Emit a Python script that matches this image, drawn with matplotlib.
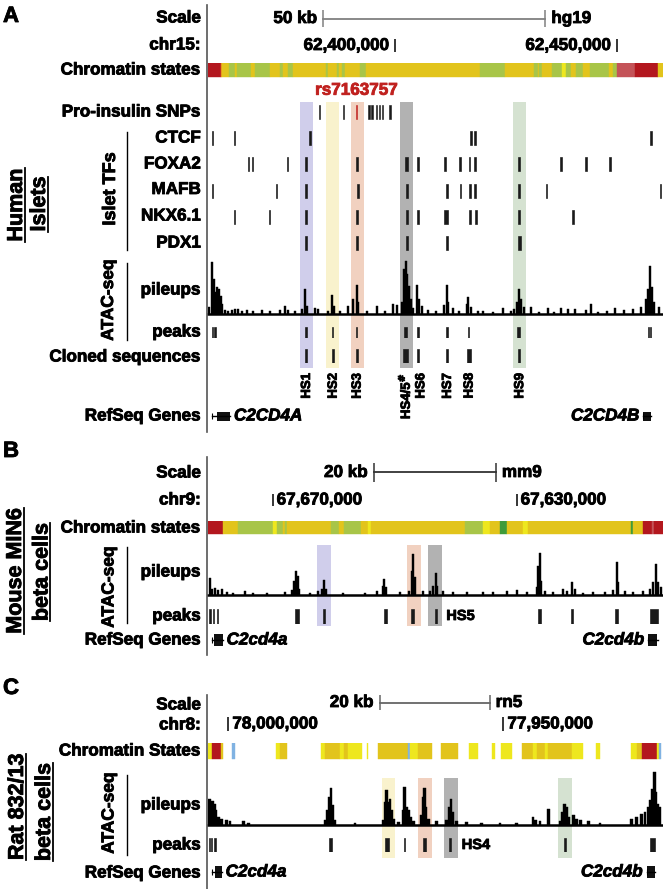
import matplotlib.pyplot as plt
import matplotlib.patheffects as pe
from matplotlib.lines import Line2D
from matplotlib.text import Text

W, H, DPI = 663, 889, 100
plt.rcParams["font.family"] = ["Liberation Sans", "DejaVu Sans"]
plt.rcParams["font.weight"] = "bold"
plt.rcParams["mathtext.default"] = "bf"

LBL = 12.3  # track label size

STATE_COLORS = {"red": "#B3171E", "orange": "#E8901F", "yellow": "#E2C41C",
                "green": "#A8C548", "lemon": "#EEE71E", "salmon": "#C45358",
                "dkgreen": "#3F9B3A", "blue": "#80B2E2"}
HL_COLORS = {"purple": "#D0CEEB", "yellow": "#F9F2CD", "salmon": "#F1D1C0",
             "gray": "#B2B2B2", "green": "#D5E2D1"}

# ---------------- Panel A: human islets, hg19 chr15 (kb from left edge of view)
A_VIEW_START = 62357.8
A_VIEW_KB = 102.5
A_CHR_TICKS = [62400, 62450]
A_CHR_LABELS = ["62,400,000", "62,450,000"]
A_SCALE = (26.0, 50)

A_CHROM_EDGES = [0, 2.86, 3.22, 4.80, 6.08, 6.46, 9.62, 10.59, 13.96, 16.22,
                 16.96, 18.09, 19.21, 26.58, 27.09, 28.99, 29.57, 30.11, 30.86, 34.23,
                 35.59, 61.33, 66.89, 73.36, 74.26, 74.62, 75.23, 77.48, 79.73, 80.63,
                 81.76, 82.88, 84.39, 86.10, 90.25, 91.15, 92.05, 96.24, 101.28, 102.5]
A_CHROM_STATES = ["red", "orange", "yellow", "green", "yellow", "green", "yellow", "green",
                  "yellow", "green", "yellow", "green", "yellow", "green", "yellow", "green",
                  "yellow", "green", "yellow", "green", "yellow", "green", "yellow", "green",
                  "yellow", "green", "yellow", "green", "lemon", "green", "yellow", "green",
                  "yellow", "green", "yellow", "green", "salmon", "red", "yellow"]

A_SNP_POS = [25.07, 30.47, 36.26, 36.94, 38.0, 38.58, 39.35, 40.99]
A_LEAD_SNP = 33.49
A_LEAD_NAME = "rs7163757"

A_TF_NAMES = ["CTCF", "FOXA2", "MAFB", "NKX6.1", "PDX1"]
A_TF_POS = [
    [0.97, 5.92, 22.97, 59.23, 60.2, 99.77],
    [9.08, 10.07, 17.86, 22.0, 33.63, 44.75, 47.37, 53.38, 56.76, 58.94, 60.2, 70.11,
     79.5, 85.14, 90.6],
    [0.97, 15.47, 22.07, 33.72, 44.89, 53.83, 56.83, 58.94, 60.2, 70.11, 76.35, 102.0],
    [5.92, 13.81, 22.0, 33.63, 44.89, 47.37, 53.6, 59.08, 60.43, 70.11, 82.27],
    [22.0, 33.63, 44.89, 53.83, 70.11],
]
A_TF_WIDTH = [
    [0.35, 0.35, 0.3, 0.3, 0.4, 0.3],
    [0.25, 0.25, 0.3, 0.45, 0.45, 0.7, 0.35, 0.4, 0.4, 0.25, 0.45, 0.55, 0.4, 0.35, 0.4],
    [0.35, 0.35, 0.55, 0.4, 0.45, 0.45, 0.2, 0.4, 0.4, 0.55, 0.2, 0.3],
    [0.35, 0.3, 0.45, 0.45, 0.5, 0.4, 1.05, 0.5, 0.4, 0.45, 0.35],
    [0.45, 0.45, 0.45, 0.45, 0.6],
]

A_PILE_POS = [0.15, 0.98, 1.35, 1.73, 2.1, 2.48, 2.85, 3.23, 3.83, 4.58, 5.33, 6.08, 6.83,
              7.58, 8.71, 10.21, 12.09, 13.96, 16.22, 17.34, 18.09, 19.6, 21.1, 21.85, 22.3,
              24.1, 24.85, 27.1, 27.93, 28.38, 29.73, 31.61, 32.73, 33.48, 33.86, 35.74,
              37.99, 39.86, 41.74, 42.49, 43.62, 44.14, 44.52, 44.89, 45.27, 45.65, 46.25,
              47.15, 47.52, 48.12, 49.47, 51.35, 53.23, 53.75, 54.13, 55.26, 56.61, 58.26,
              58.63, 59.23, 60.74, 61.86, 64.11, 66.37, 68.24, 68.99, 69.59, 70.12, 70.57,
              71.25, 72.75, 74.62, 76.5, 78.0, 79.5, 81.16, 82.66, 85.14, 86.34, 87.76,
              89.86, 91.67, 93.62, 95.65, 97.52, 98.65, 99.17, 99.55, 99.92, 100.53, 101.65]
A_PILE_H = [6.7, 51.7, 35, 21.7, 26.7, 25, 18, 10, 4, 3, 4, 5, 5, 3, 4, 3, 4, 3, 4, 7.7,
            4, 3, 5, 25, 8, 5.7, 5, 3, 19, 8, 3, 7.7, 15, 29, 11.7, 3, 7.7, 3, 10, 9, 12,
            45, 52.3, 40, 28, 15, 6, 29, 15, 7.7, 4, 3, 8.3, 28.3, 11.7, 5.7, 3, 10, 16.7,
            6.7, 2.3, 2.3, 2, 5.7, 3, 5, 11.7, 24.3, 15, 6.7, 6.7, 2, 5.7, 2, 5.7, 5, 5,
            3.3, 10, 2, 3, 5.7, 3.3, 5, 6.7, 15, 25, 48, 26.7, 11.7, 6.7]

A_PEAK_POS = [1.0, 1.6, 22.07, 28.08, 33.48, 44.52, 47.37, 53.83, 58.71, 70.0, 99.2, 99.6]
A_PEAK_W = [0.25, 0.3, 0.35, 0.3, 0.35, 0.8, 0.35, 0.3, 0.35, 0.6, 0.25, 0.25]

A_CLONED_NAMES = ["HS1", "HS2", "HS3", r"HS4/5$^{\#}$", "HS6", "HS7", "HS8", "HS9"]
A_CLONED_POS = [22.07, 28.08, 33.48, 44.5, 47.37, 53.83, 58.71, 70.1]
A_CLONED_W = [0.5, 0.5, 0.45, 1.2, 0.5, 0.5, 0.95, 0.5]

A_HL = [(20.72, 23.72), (26.58, 29.58), (32.21, 35.21), (43.24, 46.24), (68.63, 71.63)]
A_HL_COL = ["purple", "yellow", "salmon", "gray", "green"]

A_GENES = ["C2CD4A", "C2CD4B"]
A_GENE_TX = [(0.98, 4.95), (98.1, 99.9)]
A_GENE_EXON = [(1.95, 4.95), (98.1, 99.9)]
A_GENE_SIDE = ["right", "left"]

# ---------------- Panel B: mouse MIN6, mm9 chr9 (minus orientation)
B_VIEW_START = 67680.6
B_VIEW_KB = 74.6
B_CHR_TICKS = [67670, 67630]
B_CHR_LABELS = ["67,670,000", "67,630,000"]
B_SCALE = (27.2, 20)

B_CHROM_EDGES = [0, 2.4, 4.97, 10.71, 11.26, 12.35, 12.62, 13.0, 20.16, 21.53, 22.3, 25.08,
                 26.17, 26.67, 42.13, 45.14, 46.23, 47.87, 48.96, 51.69, 52.51, 69.34, 69.73,
                 71.37, 72.73, 73.11, 74.6]
B_CHROM_STATES = ["red", "yellow", "green", "lemon", "green", "yellow", "green", "yellow",
                  "green", "yellow", "green", "yellow", "lemon", "yellow", "green", "lemon",
                  "yellow", "dkgreen", "yellow", "lemon", "yellow", "dkgreen", "yellow",
                  "red", "salmon", "red"]

B_PILE_POS = [0.33, 0.6, 1.15, 1.69, 2.24, 3.06, 4.15, 6.07, 7.43, 9.62, 12.62, 13.72, 14.15,
              14.43, 14.7, 14.97, 16.72, 18.09, 18.63, 19.02, 19.34, 22.19, 25.74, 27.65,
              28.63, 28.9, 29.18, 31.48, 33.0, 33.39, 33.66, 33.93, 35.3, 36.39, 36.94,
              37.32, 37.6, 38.58, 40.22, 42.4, 45.14, 46.78, 48.96, 50.6, 52.24, 53.88,
              54.15, 54.37, 54.64, 55.25, 56.61, 58.25, 58.8, 59.62, 60.16, 61.53, 63.17,
              65.08, 66.45, 66.99, 67.27, 68.36, 69.73, 71.37, 72.46, 73.01, 73.44, 73.83,
              74.21]
B_PILE_H = [17, 5.7, 6.7, 4.7, 5.7, 2.3, 2, 3.3, 1.7, 1.7, 2.3, 4.7, 14, 24, 19, 5.7, 1.7, 4,
            5.7, 14.7, 5.7, 1.7, 1.7, 4, 9, 15.7, 7.3, 2.3, 4, 24, 40.7, 17.3, 3.3, 4, 9,
            21.3, 9, 4, 2.3, 3, 2.3, 3, 3.3, 4.7, 3, 8, 29, 41.3, 14, 4, 2.3, 5.7, 4, 12.3,
            5.7, 1.7, 3, 3, 4.7, 32.3, 12.3, 4, 3, 3.3, 5.7, 12.3, 30.7, 12.3, 7.3]

B_PEAK_POS = [0.33, 0.87, 1.53, 14.54, 19.02, 29.07, 33.55, 37.38, 54.32, 59.67, 66.99, 73.1]
B_PEAK_W = [0.2, 0.2, 0.2, 0.6, 0.45, 0.45, 0.45, 0.25, 0.45, 0.4, 0.45, 1.2]
B_PEAK_NOTE = ("HS5", 38.42)

B_HL = [(17.81, 20.11), (32.57, 34.86), (36.12, 38.42)]
B_HL_COL = ["purple", "salmon", "gray"]

B_GENES = ["C2cd4a", "C2cd4b"]
B_GENE_TX = [(0.6, 2.4), (72.2, 73.85)]
B_GENE_EXON = [(0.98, 2.4), (72.2, 73.55)]
B_GENE_SIDE = ["right", "left"]

# ---------------- Panel C: rat 832/13, rn5 chr8 (minus orientation)
C_VIEW_START = 78003.7
C_VIEW_KB = 82.7
C_CHR_TICKS = [78000, 77950]
C_CHR_LABELS = ["78,000,000", "77,950,000"]
C_SCALE = (31.2, 20)

C_CHROM_EDGES = [0, 0.67, 2.3, 2.67, 4.42, 4.91, 12.36, 13.09, 14.3, 20.48, 21.27, 24.0,
                 24.73, 25.52, 27.94, 28.85, 29.15, 30.85, 36.42, 36.73, 38.24, 40.67, 42.3,
                 45.52, 47.52, 49.15, 51.58, 52.18, 53.27, 55.33, 57.15, 59.15, 59.76, 61.27,
                 61.88, 66.12, 68.12, 70.55, 71.27, 76.85, 77.94, 78.85, 81.58, 82.06, 82.3]
C_CHROM_STATES = ["lemon", "red", "yellow", None, "blue", None, "lemon", "yellow", None,
                  "lemon", "yellow", "lemon", "yellow", "lemon", None, "lemon", None,
                  "yellow", "blue", "lemon", "yellow", None, "yellow", None, "lemon", None,
                  "lemon", None, "lemon", None, "yellow", "lemon", "yellow", "lemon",
                  "yellow", "lemon", None, "lemon", None, "lemon", "yellow", "red", "lemon",
                  "blue"]

C_PILE_POS = [0.24, 0.55, 0.85, 1.21, 1.45, 1.88, 2.48, 3.39, 4.0, 6.42, 7.33, 21.27, 21.76,
              22.06, 22.36, 22.67, 22.97, 26.73, 31.88, 32.18, 32.42, 32.79, 33.09, 33.39,
              33.7, 34.6, 35.52, 35.76, 36.06, 36.42, 36.85, 37.33, 38.85, 39.15, 39.33,
              39.64, 40.06, 41.58, 43.39, 43.88, 44.18, 44.48, 45.21, 47.03, 49.76, 53.09,
              56.12, 59.09, 59.52, 60.36, 61.88, 64.12, 64.48, 64.85, 65.21, 65.52, 66.42,
              66.91, 67.64, 69.15, 71.27, 77.03, 77.94, 78.85, 79.45, 80.06, 80.48, 80.85,
              81.09, 81.39, 81.7, 82.06]
C_PILE_H = [26, 17.7, 23.3, 21, 14.3, 7.7, 6, 4.3, 3.3, 3.3, 2, 4.3, 14.3, 27.7, 36.7, 19.3,
            4.3, 2, 4.3, 22.7, 34.3, 22.7, 26, 14.3, 6, 2.7, 14.3, 37.7, 17.7, 14.3, 7.7,
            3.3, 9.3, 27.7, 36.7, 17.7, 6, 3.3, 4.3, 17.7, 26, 12.7, 3.3, 2.7, 2, 2, 2, 7.7,
            4.3, 3.3, 15.3, 3.3, 12.7, 20.3, 17.7, 7.7, 9.3, 6, 4.3, 3.3, 2, 6, 7.7, 11,
            12.7, 17.7, 24.3, 36, 52.7, 32.7, 21, 17.7]

C_PEAK_POS = [0.24, 0.67, 1.27, 22.3, 32.6, 35.76, 39.33, 44.0, 64.9, 80.8]
C_PEAK_W = [0.2, 0.2, 0.3, 0.55, 0.7, 0.2, 0.45, 0.5, 0.25, 0.8]
C_PEAK_NOTE = ("HS4", 45.39)

C_HL = [(31.58, 33.99), (38.24, 40.67), (42.97, 45.39), (63.7, 66.12)]
C_HL_COL = ["yellow", "salmon", "gray", "green"]

C_GENES = ["C2cd4a", "C2cd4b"]
C_GENE_TX = [(0.67, 2.48), (79.76, 81.27)]
C_GENE_EXON = [(1.27, 2.48), (79.76, 81.27)]
C_GENE_SIDE = ["right", "left"]


fig = plt.figure(figsize=(W / DPI, H / DPI), dpi=DPI)


def fy(y):
    return 1 - y / H


def track_ax(y0, y1, view_kb):
    ax = fig.add_axes([208 / W, fy(y1), 455 / W, (y1 - y0) / H])
    ax.set_xlim(0, view_kb)
    ax.axis("off")
    return ax


def label(y, s, x=201, **kw):
    fig.text(x / W, fy(y), s, ha="right", va="center", fontsize=LBL, **kw)


def fline(x0, y0, x1, y1, color="black", lw=1.0):
    fig.add_artist(Line2D([x0 / W, x1 / W], [fy(y0), fy(y1)], color=color, lw=lw))


underlines = []


def vlabel(x, y, s, size, underline=None):
    t = fig.text(x / W, fy(y), s, rotation=90, rotation_mode="anchor",
                 ha="center", va="baseline", fontsize=size)
    if underline is not None:
        underlines.append((t, underline))


def draw_highlights(ax, spans, cols):
    ax.set_ylim(0, 1)
    for (a, b), c in zip(spans, cols):
        ax.axvspan(a, b, color=HL_COLORS[c], lw=0)


def draw_scale(ax, start, length, left, right, color):
    ax.set_ylim(-1, 1)
    ax.plot([start, start + length], [0, 0], color=color, lw=1.3)
    ax.vlines([start, start + length], -1, 1, color=color, lw=1.1)
    ax.annotate(left, xy=(start, 0), xytext=(-6, 0), textcoords="offset pixels",
                ha="right", va="center", fontsize=LBL)
    ax.annotate(right, xy=(start + length, 0), xytext=(6, 0), textcoords="offset pixels",
                ha="left", va="center", fontsize=LBL)


def draw_chr(ax, view_start, ticks, labels, reverse):
    ax.set_ylim(-1, 1)
    xs = [view_start - t if reverse else t - view_start for t in ticks]
    ax.vlines(xs, -1, 1, color="black", lw=1.1)
    for x, s in zip(xs, labels):
        if reverse:
            ax.annotate(s, xy=(x, 0), xytext=(4, 0), textcoords="offset pixels",
                        ha="left", va="center", fontsize=LBL)
        else:
            ax.annotate(s, xy=(x, 0), xytext=(-6, 0), textcoords="offset pixels",
                        ha="right", va="center", fontsize=LBL)


def draw_chrom(ax, edges, states):
    ax.set_ylim(0, 1)
    for a, b, s in zip(edges[:-1], edges[1:], states):
        if s is None:
            continue
        c = STATE_COLORS[s]
        ax.broken_barh([(a, b - a)], (0, 1), facecolors=c, edgecolor=c, lw=0.3)


def draw_pileup(ax, pos, h, width, top):
    ax.set_ylim(0, top)
    ax.bar(pos, h, width=width, color="black", edgecolor="black", lw=0.3)
    ax.axhline(0, color="black", lw=1.8, clip_on=False)


def draw_marks(ax, pos, widths, color="#1a1a1a"):
    ax.set_ylim(0, 1)
    ax.bar(pos, 1, width=widths, bottom=0, color=color, edgecolor=color, lw=0.45)


def draw_genes(ax, names, tx, exons, sides, exon_h):
    ax.set_ylim(-8, 8)
    for name, (t0, t1), (e0, e1), side in zip(names, tx, exons, sides):
        ax.plot([t0, t1], [0, 0], color="black", lw=1)
        ax.vlines(t0, -3, 3, color="black", lw=0.8)
        ax.bar((e0 + e1) / 2, exon_h, width=e1 - e0, bottom=-exon_h / 2, color="#111", lw=0)
        if side == "right":
            ax.annotate(name, xy=(e1, 0), xytext=(4, 0), textcoords="offset pixels",
                        ha="left", va="center", fontsize=12.3, style="italic")
        else:
            ax.annotate(name, xy=(e0, 0), xytext=(-4, 0), textcoords="offset pixels",
                        ha="right", va="center", fontsize=12.3, style="italic")


# ======================= Panel A =======================
fig.text(3 / W, fy(6), "A", fontsize=16, ha="left", va="top")
fline(207, 5, 207, 432, color="#555", lw=1.2)

draw_highlights(track_ax(101.7, 368, A_VIEW_KB), A_HL, A_HL_COL)
draw_scale(track_ax(10, 27, A_VIEW_KB), A_SCALE[0], A_SCALE[1], "50 kb", "hg19", "#808080")
draw_chr(track_ax(39, 52, A_VIEW_KB), A_VIEW_START, A_CHR_TICKS, A_CHR_LABELS, False)
draw_chrom(track_ax(63.3, 76.7, A_VIEW_KB), A_CHROM_EDGES, A_CHROM_STATES)

ax_tf = track_ax(98.9, 256.1, A_VIEW_KB)
ax_tf.set_ylim(5.5, -0.5)
ax_tf.bar(A_SNP_POS, 0.54, width=0.28, bottom=-0.27, color="#1a1a1a",
          edgecolor="#1a1a1a", lw=0.4)
ax_tf.bar([A_LEAD_SNP], 0.54, width=0.35, bottom=-0.27, color="#C0211F",
          edgecolor="#C0211F", lw=0.4)
ax_tf.text(A_LEAD_SNP, -0.83, A_LEAD_NAME, color="#C0211F", ha="center", va="center",
           fontsize=LBL)
for i, (pos, wid) in enumerate(zip(A_TF_POS, A_TF_WIDTH), start=1):
    ax_tf.bar(pos, 0.54, width=wid, bottom=i - 0.27, color="#1a1a1a",
              edgecolor="#1a1a1a", lw=0.45)

draw_pileup(track_ax(258, 313.5, A_VIEW_KB), A_PILE_POS, A_PILE_H, 0.45, 55.5)
draw_marks(track_ax(326.7, 338.3, A_VIEW_KB), A_PEAK_POS, A_PEAK_W)
ax_cl = track_ax(349, 363, A_VIEW_KB)
draw_marks(ax_cl, A_CLONED_POS, A_CLONED_W)
# small sideways nudges (pixels) keep the two close labels HS4/5# and HS6 apart
hs_nudge = {r"HS4/5$^{\#}$": -2, "HS6": 2}
for name, x in zip(A_CLONED_NAMES, A_CLONED_POS):
    ax_cl.annotate(name, xy=(x, 0), xycoords=("data", "axes fraction"),
                   xytext=(1 + hs_nudge.get(name, 0), -10),
                   textcoords="offset pixels", rotation=90, ha="center", va="top",
                   fontsize=9.5)
draw_genes(track_ax(408, 424, A_VIEW_KB), A_GENES, A_GENE_TX, A_GENE_EXON, A_GENE_SIDE, 9)

label(18, "Scale")
label(45, "chr15:")
label(70, "Chromatin states")
label(112, "Pro-insulin SNPs")
for name, y in zip(A_TF_NAMES, [138, 164, 189.5, 216, 243]):
    label(y, name)
label(290, "pileups")
label(332, "peaks")
label(357, "Cloned sequences")
label(416, "RefSeq Genes")
vlabel(115, 189, "Islet TFs", 13)
fline(127, 132, 127, 250)
vlabel(113, 300, "ATAC-seq", 12.5)
fline(127, 263, 127, 340)
vlabel(22, 205, "Human", 15.5, underline=2.8)
vlabel(45, 204, "Islets", 15.5, underline=2.8)

# ======================= Panel B =======================
fig.text(3 / W, fy(441), "B", fontsize=16, ha="left", va="top")
fline(207, 457, 207, 655, color="#555", lw=1.2)

draw_highlights(track_ax(545, 626, B_VIEW_KB), B_HL, B_HL_COL)
draw_scale(track_ax(463, 482, B_VIEW_KB), B_SCALE[0], B_SCALE[1], "20 kb", "mm9", "#333")
draw_chr(track_ax(494, 506, B_VIEW_KB), B_VIEW_START, B_CHR_TICKS, B_CHR_LABELS, True)
draw_chrom(track_ax(520.7, 534.3, B_VIEW_KB), B_CHROM_EDGES, B_CHROM_STATES)
draw_pileup(track_ax(543, 594.5, B_VIEW_KB), B_PILE_POS, B_PILE_H, 0.35, 51.5)
ax_pk = track_ax(608.5, 623.5, B_VIEW_KB)
draw_marks(ax_pk, B_PEAK_POS, B_PEAK_W)
ax_pk.annotate(B_PEAK_NOTE[0], xy=(B_PEAK_NOTE[1], 0.5), xytext=(4, 0),
               textcoords="offset pixels", ha="left", va="center", fontsize=10.5)
draw_genes(track_ax(632, 648, B_VIEW_KB), B_GENES, B_GENE_TX, B_GENE_EXON, B_GENE_SIDE, 12)

label(473, "Scale")
label(500, "chr9:")
label(528, "Chromatin states")
label(572, "pileups")
label(616, "peaks")
label(640, "RefSeq Genes")
vlabel(113.5, 587, "ATAC-seq", 12.5)
fline(127, 547, 127, 623)
vlabel(21, 571, "Mouse MIN6", 15.5, underline=3.0)
vlabel(47.5, 572, "beta cells", 15.5, underline=3.0)

# ======================= Panel C =======================
fig.text(3 / W, fy(678), "C", fontsize=16, ha="left", va="top")
fline(207, 695, 207, 889, color="#555", lw=1.2)

draw_highlights(track_ax(777.7, 858.3, C_VIEW_KB), C_HL, C_HL_COL)
draw_scale(track_ax(695, 710, C_VIEW_KB), C_SCALE[0], C_SCALE[1], "20 kb", "rn5", "#666")
draw_chr(track_ax(717, 731, C_VIEW_KB), C_VIEW_START, C_CHR_TICKS, C_CHR_LABELS, True)
draw_chrom(track_ax(743.3, 759, C_VIEW_KB), C_CHROM_EDGES, C_CHROM_STATES)
draw_pileup(track_ax(769, 824.5, C_VIEW_KB), C_PILE_POS, C_PILE_H, 0.5, 55.5)
ax_pk = track_ax(838, 852, C_VIEW_KB)
draw_marks(ax_pk, C_PEAK_POS, C_PEAK_W)
ax_pk.annotate(C_PEAK_NOTE[0], xy=(C_PEAK_NOTE[1], 0.5), xytext=(4, 0),
               textcoords="offset pixels", ha="left", va="center", fontsize=10.5)
draw_genes(track_ax(864, 880, C_VIEW_KB), C_GENES, C_GENE_TX, C_GENE_EXON, C_GENE_SIDE, 12)

label(705, "Scale")
label(725, "chr8:")
label(751, "Chromatin States")
label(805, "pileups")
label(845, "peaks")
label(873, "RefSeq Genes")
vlabel(113.5, 813, "ATAC-seq", 12.5)
fline(127, 775, 127, 855)
vlabel(23, 807, "Rat 832/13", 15.5, underline=3.0)
vlabel(50, 812, "beta cells", 15.5, underline=3.0)

# heavier strokes on all text, like the original figure's bold face
for t in fig.findobj(Text):
    if t.get_text():
        t.set_path_effects([pe.withStroke(linewidth=0.6, foreground=t.get_color())])

# underline the rotated species labels
fig.canvas.draw()
for t, off in underlines:
    bb = t.get_window_extent()
    x = (t.get_position()[0] * W + off) / W
    fig.add_artist(Line2D([x, x], [bb.y0 / H, bb.y1 / H], color="black", lw=1.3))

fig.savefig("out.png", dpi=DPI)
